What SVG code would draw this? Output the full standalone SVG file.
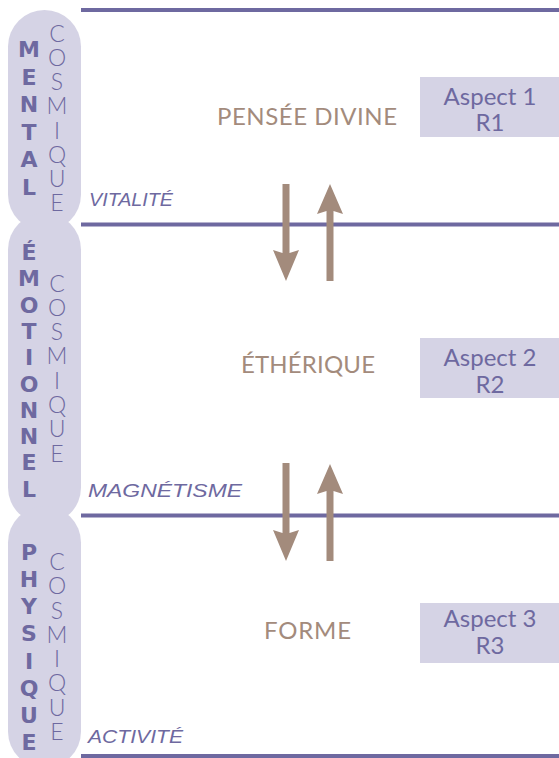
<svg xmlns="http://www.w3.org/2000/svg" width="559" height="758" viewBox="0 0 559 758">
<style>
.pill{fill:#d5d3e5}
.line{stroke:#6e69a0;stroke-width:4;fill:none}
.bold{font-family:"DejaVu Sans","Liberation Sans",sans-serif;font-weight:bold;font-size:22px;fill:#6e69a0;text-anchor:middle}
.light{font-family:Lato,"Liberation Sans",sans-serif;font-weight:300;font-size:23px;fill:#6e69a0;text-anchor:middle}
.ital{font-family:"Liberation Sans",sans-serif;font-style:italic;font-size:19px;fill:#6e69a0}
.center{font-family:Lato,"Liberation Sans",sans-serif;font-size:24px;fill:#a38b7c}
.box{fill:#d5d3e5}
.asp{font-family:Lato,"Liberation Sans",sans-serif;font-size:24px;fill:#6e69a0;text-anchor:middle}
.arrow{fill:#a38b7c}
</style>
<g id="pills">
<g id="mental-pill">
<rect class="pill" x="8" y="10" width="73" height="221" rx="36.5"/>
<text class="bold"><tspan x="29" y="57">M</tspan><tspan x="29" y="84.6">E</tspan><tspan x="29" y="112.2">N</tspan><tspan x="29" y="139.8">T</tspan><tspan x="29" y="167.4">A</tspan><tspan x="29" y="195">L</tspan></text>
<text class="light"><tspan x="57" y="42">C</tspan><tspan x="57" y="66.1">O</tspan><tspan x="57" y="90.3">S</tspan><tspan x="57" y="114.4">M</tspan><tspan x="57" y="138.6">I</tspan><tspan x="57" y="162.7">Q</tspan><tspan x="57" y="186.9">U</tspan><tspan x="57" y="211">E</tspan></text>
</g>
<g id="emotionnel-pill">
<rect class="pill" x="8" y="213" width="73" height="311" rx="36.5"/>
<text class="bold"><tspan x="29" y="260">É</tspan><tspan x="29" y="286.3">M</tspan><tspan x="29" y="312.6">O</tspan><tspan x="29" y="338.9">T</tspan><tspan x="29" y="365.2">I</tspan><tspan x="29" y="391.5">O</tspan><tspan x="29" y="417.8">N</tspan><tspan x="29" y="444.1">N</tspan><tspan x="29" y="470.4">E</tspan><tspan x="29" y="496.7">L</tspan></text>
<text class="light"><tspan x="57" y="291.5">C</tspan><tspan x="57" y="315.8">O</tspan><tspan x="57" y="340.1">S</tspan><tspan x="57" y="364.4">M</tspan><tspan x="57" y="388.7">I</tspan><tspan x="57" y="413">Q</tspan><tspan x="57" y="437.3">U</tspan><tspan x="57" y="461.5">E</tspan></text>
</g>
<g id="physique-pill">
<rect class="pill" x="8" y="506" width="73" height="262" rx="36.5"/>
<text class="bold"><tspan x="29" y="560">P</tspan><tspan x="29" y="587.1">H</tspan><tspan x="29" y="614.3">Y</tspan><tspan x="29" y="641.4">S</tspan><tspan x="29" y="668.6">I</tspan><tspan x="29" y="695.7">Q</tspan><tspan x="29" y="722.9">U</tspan><tspan x="29" y="750">E</tspan></text>
<text class="light"><tspan x="57" y="570">C</tspan><tspan x="57" y="594.3">O</tspan><tspan x="57" y="618.6">S</tspan><tspan x="57" y="642.9">M</tspan><tspan x="57" y="667.1">I</tspan><tspan x="57" y="691.4">Q</tspan><tspan x="57" y="715.7">U</tspan><tspan x="57" y="740">E</tspan></text>
</g>
</g>
<g id="lines">
<line class="line" x1="81" y1="10" x2="559" y2="10"/>
<line class="line" x1="81" y1="224.5" x2="559" y2="224.5"/>
<line class="line" x1="81" y1="515.5" x2="559" y2="515.5"/>
<line class="line" x1="81" y1="756" x2="559" y2="756"/>
</g>
<g id="labels">
<text class="ital" x="89" y="206" textLength="84" lengthAdjust="spacingAndGlyphs">VITALITÉ</text>
<text class="ital" x="88" y="497" textLength="154" lengthAdjust="spacingAndGlyphs">MAGNÉTISME</text>
<text class="ital" x="88" y="743" textLength="95" lengthAdjust="spacingAndGlyphs">ACTIVITÉ</text>
</g>
<g id="pensee"><text class="center" x="217" y="125" textLength="180">PENSÉE DIVINE</text></g>
<g id="etherique"><text class="center" x="241" y="373" textLength="134">ÉTHÉRIQUE</text></g>
<g id="forme"><text class="center" x="264" y="639" textLength="87">FORME</text></g>
<g id="aspect1">
<rect class="box" x="420" y="77" width="139" height="60"/>
<text class="asp"><tspan x="490" y="105">Aspect 1</tspan><tspan x="490" y="131">R1</tspan></text>
</g>
<g id="aspect2">
<rect class="box" x="420" y="338" width="139" height="60"/>
<text class="asp"><tspan x="490" y="366">Aspect 2</tspan><tspan x="490" y="393">R2</tspan></text>
</g>
<g id="aspect3">
<rect class="box" x="420" y="603" width="139" height="60"/>
<text class="asp"><tspan x="490" y="627">Aspect 3</tspan><tspan x="490" y="654">R3</tspan></text>
</g>
<g id="connectors">
<path class="arrow" d="M282.5,184 H289.5 V253 L299,250 L286,281 L273,250 L282.5,253 Z"/>
<path class="arrow" d="M326.5,281 H333.5 V211 L343,214 L330,184 L317,214 L326.5,211 Z"/>
<path class="arrow" d="M282.5,463 H289.5 V533 L299,530 L286,561 L273,530 L282.5,533 Z"/>
<path class="arrow" d="M326.5,561 H333.5 V491 L343,494 L330,464 L317,494 L326.5,491 Z"/>
</g>
</svg>
